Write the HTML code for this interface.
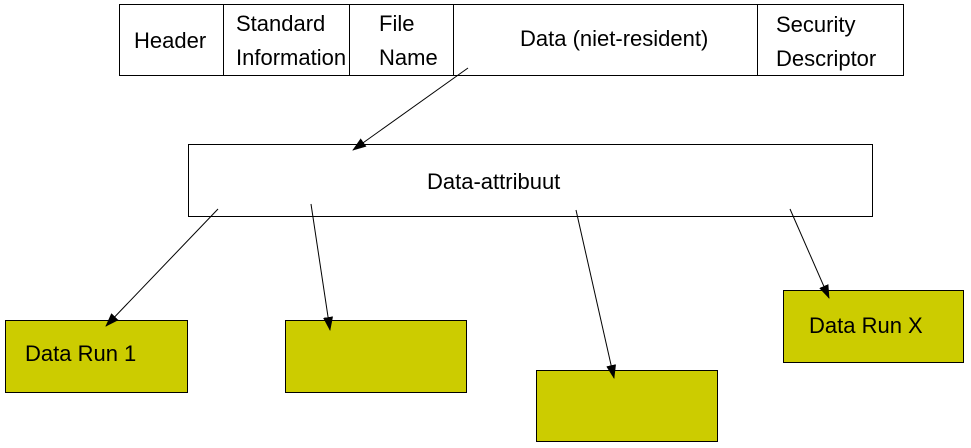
<!DOCTYPE html>
<html><head><style>
html,body{margin:0;padding:0;background:#fff;width:971px;height:448px;overflow:hidden}
svg text{font-family:"Liberation Sans",sans-serif;font-size:22px;fill:#000}
</style></head><body>
<svg width="971" height="448" viewBox="0 0 971 448">
<defs><marker id="a" markerWidth="14" markerHeight="10" refX="13" refY="5" orient="auto" markerUnits="userSpaceOnUse"><path d="M0,0 L14,5 L0,10 z" fill="#000"/></marker></defs>
<rect x="119.5" y="4.5" width="784" height="71" fill="#fff" stroke="#000"/>
<line x1="223.5" y1="4" x2="223.5" y2="75" stroke="#000"/>
<line x1="349.5" y1="4" x2="349.5" y2="75" stroke="#000"/>
<line x1="453.5" y1="4" x2="453.5" y2="75" stroke="#000"/>
<line x1="757.5" y1="4" x2="757.5" y2="75" stroke="#000"/>
<text x="134" y="48">Header</text>
<text x="236" y="31">Standard</text>
<text x="236" y="65">Information</text>
<text x="379" y="31">File</text>
<text x="379" y="65">Name</text>
<text x="520" y="46">Data (niet-resident)</text>
<text x="776" y="32">Security</text>
<text x="776" y="66">Descriptor</text>
<rect x="188.5" y="144.5" width="684" height="72" fill="#fff" stroke="#000"/>
<text x="427" y="189">Data-attribuut</text>
<rect x="5.5" y="320.5" width="182" height="72" fill="#cccc00" stroke="#000"/>
<text x="25" y="361">Data Run 1</text>
<rect x="285.5" y="320.5" width="181" height="72" fill="#cccc00" stroke="#000"/>
<rect x="536.5" y="370.5" width="181" height="71" fill="#cccc00" stroke="#000"/>
<rect x="783.5" y="290.5" width="180" height="72" fill="#cccc00" stroke="#000"/>
<text x="809" y="333">Data Run X</text>
<g stroke="#000" stroke-width="1" marker-end="url(#a)">
<line x1="468" y1="68" x2="353" y2="150"/>
<line x1="218" y1="209" x2="106" y2="326"/>
<line x1="311" y1="204" x2="330" y2="330"/>
<line x1="576" y1="210" x2="614" y2="378"/>
<line x1="790" y1="209" x2="829" y2="298"/>
</g>
</svg>
</body></html>
